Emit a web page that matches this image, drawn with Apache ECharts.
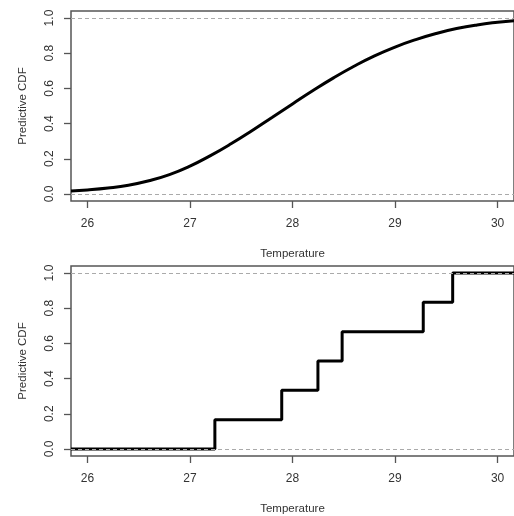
<!DOCTYPE html>
<html><head><meta charset="utf-8">
<script src="https://cdn.jsdelivr.net/npm/echarts@6/dist/echarts.min.js"></script>
<style>html,body{margin:0;padding:0;background:#fff}#c{width:514px;height:516px}</style>
</head><body><div id="c"></div>
<script>
// Top panel: smooth predictive CDF
const curveX = [25.84,26.0,26.2,26.4,26.6,26.8,27.0,27.2,27.4,27.6,27.8,28.0,28.2,28.4,28.6,28.8,29.0,29.2,29.4,29.6,29.8,30.0,30.16];
const curveY = [0.017,0.023,0.034,0.050,0.075,0.110,0.158,0.218,0.285,0.358,0.435,0.512,0.588,0.660,0.726,0.785,0.835,0.877,0.912,0.940,0.961,0.976,0.985];
// Bottom panel: empirical (step) predictive CDF
const stepX = [25.84,27.243,27.895,28.248,28.484,29.275,29.562,30.16];
const stepY = [0,0.1667,0.3333,0.5,0.6667,0.8333,1,1];
const xTicks = [26,27,28,29,30];
const yTicks = [0,0.2,0.4,0.6,0.8,1.0];
const refLines = [0,1];

const font = 'Liberation Sans, Arial, sans-serif';
const txt = '#333';
const axCol = '#555';

function xAxis(gi){
  return {
    type:'value', gridIndex:gi, min:25.84, max:30.16,
    name:'Temperature', nameLocation:'middle', nameGap:47,
    nameTextStyle:{fontFamily:font,fontSize:11.5,color:txt},
    axisLine:{show:false,onZero:false}, splitLine:{show:false},
    axisTick:{show:true,inside:false,length:7,customValues:xTicks,lineStyle:{color:axCol,width:1.3}},
    axisLabel:{customValues:xTicks,margin:17,fontFamily:font,fontSize:12,color:txt,formatter:v=>String(v)}
  };
}
function yAxis(gi){
  return {
    type:'value', gridIndex:gi, min:-0.04, max:1.04,
    name:'Predictive CDF', nameLocation:'middle', nameGap:42,
    nameTextStyle:{fontFamily:font,fontSize:11.5,color:txt},
    axisLine:{show:false,onZero:false}, splitLine:{show:false},
    axisTick:{show:true,inside:false,length:7,customValues:yTicks,lineStyle:{color:axCol,width:1.3}},
    axisLabel:{customValues:yTicks,rotate:90,margin:15,fontFamily:font,fontSize:12,color:txt,formatter:v=>v.toFixed(1)}
  };
}
const ml = {
  silent:true, symbol:['none','none'], label:{show:false},
  lineStyle:{color:'#aaa',type:[4,3],width:1},
  data: refLines.map(v=>({yAxis:v}))
};
const chart = echarts.init(document.getElementById('c'),null,{renderer:'canvas'});
chart.setOption({
  animation:false,
  grid:[
    {left:71,top:11,width:446,height:190,show:true,borderColor:axCol,borderWidth:1.5,backgroundColor:'transparent'},
    {left:71,top:266,width:446,height:190,show:true,borderColor:axCol,borderWidth:1.5,backgroundColor:'transparent'}
  ],
  xAxis:[xAxis(0),xAxis(1)],
  yAxis:[yAxis(0),yAxis(1)],
  series:[
    {type:'line',xAxisIndex:0,yAxisIndex:0,smooth:true,showSymbol:false,
     data:curveX.map((x,i)=>[x,curveY[i]]),lineStyle:{color:'#000',width:3},markLine:ml,z:3},
    {type:'line',xAxisIndex:1,yAxisIndex:1,step:'end',showSymbol:false,
     data:stepX.map((x,i)=>[x,stepY[i]]),lineStyle:{color:'#000',width:3},markLine:ml,z:3}
  ]
});
</script></body></html>
